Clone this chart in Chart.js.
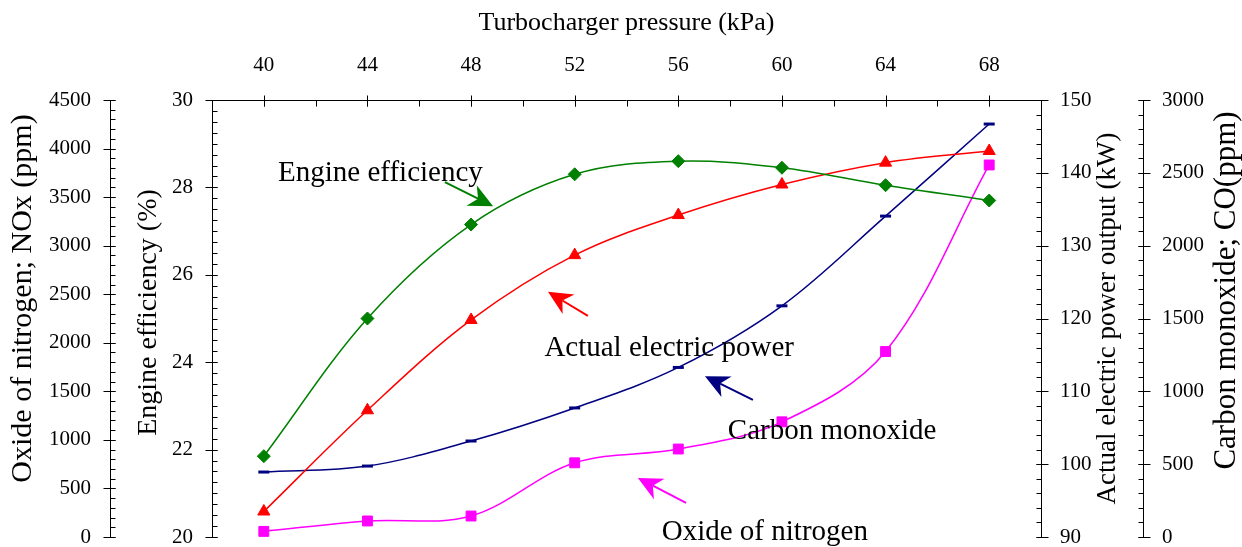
<!DOCTYPE html>
<html>
<head>
<meta charset="utf-8">
<script src="https://cdn.jsdelivr.net/npm/chart.js@4.4.1/dist/chart.umd.min.js"></script>
<style>
  html, body { margin: 0; padding: 0; background: #fff; }
  canvas { display: block; }
</style>
</head>
<body>
<canvas id="myChart" width="1242" height="547"></canvas>
<script>
// data
const pressure = [40, 44, 48, 52, 56, 60, 64, 68];            // kPa
const efficiency = [21.85, 25.0, 27.15, 28.3, 28.6, 28.45, 28.05, 27.7]; // %
const power = [93.5, 107.4, 119.8, 128.7, 134.2, 138.4, 141.4, 143.0];   // kW
const carbonMonoxide = [446, 487, 659, 886, 1164, 1587, 2203, 2835];     // ppm
const nitrogenOxide = [58, 165, 216, 764, 906, 1186, 1910, 3831];        // ppm

// tick labels
const pressureTicks = [40, 44, 48, 52, 56, 60, 64, 68];
const efficiencyTicks = [20, 22, 24, 26, 28, 30];
const noxTicks = [0, 500, 1000, 1500, 2000, 2500, 3000, 3500, 4000, 4500];
const powerTicks = [90, 100, 110, 120, 130, 140, 150];
const coTicks = [0, 500, 1000, 1500, 2000, 2500, 3000];

const serif = "'Liberation Serif', 'Times New Roman', serif";
Chart.defaults.font.family = serif;
Chart.defaults.color = '#000';

function pts(ys) {
  return pressure.map((p, i) => ({ x: p, y: ys[i] }));
}

// side titles: distance of text middle from the axis line, shift from the centre
const sideTitles = {
  nox: { text: 'Oxide of nitrogen; NOx (ppm)', size: 30, dist: 87, shift: -20 },
  eff: { text: 'Engine efficiency (%)', size: 28, dist: 63, shift: -6 },
  power: { text: 'Actual electric power output (kW)', size: 27, dist: 67, shift: 0 },
  co: { text: 'Carbon monoxide; CO(ppm)', size: 31, dist: 84, shift: -28 }
};

// annotations in (kPa, efficiency %) coordinates
const notes = [
  { text: 'Engine efficiency', color: '#008000', at: [40.55, 28.15], tail: [46.99, 28.12], tip: [48.85, 27.57] },
  { text: 'Actual electric power', color: '#ff0000', at: [50.83, 24.14], tail: [52.51, 25.06], tip: [50.97, 25.61] },
  { text: 'Carbon monoxide', color: '#000080', at: [57.91, 22.24], tail: [58.88, 23.14], tip: [57.03, 23.68] },
  { text: 'Oxide of nitrogen', color: '#ff00ff', at: [55.36, 19.93], tail: [56.30, 20.78], tip: [54.44, 21.35] }
];

const axisFrame = {
  id: 'axisFrame',
  beforeDatasetsDraw(chart) {
    const ctx = chart.ctx;
    const s = chart.scales;
    const area = chart.chartArea;
    ctx.save();
    ctx.strokeStyle = '#000';
    ctx.lineWidth = 1;
    ctx.beginPath();
    [['nox', 100, -1], ['eff', 0.25, -1], ['power', 2, 1], ['co', 100, 1]].forEach(([id, minor, side]) => {
      const sc = s[id];
      const x = (side < 0 ? Math.round(sc.right) : Math.round(sc.left)) + 0.5;
      ctx.moveTo(x, sc.top);
      ctx.lineTo(x, sc.bottom);
      const n = Math.round((sc.max - sc.min) / minor);
      for (let i = 0; i <= n; i++) {
        const y = Math.round(sc.getPixelForValue(sc.min + i * minor)) + 0.5;
        ctx.moveTo(x, y);
        ctx.lineTo(x - side * 5, y);
      }
      sc.ticks.forEach(t => {
        const y = Math.round(sc.getPixelForValue(t.value)) + 0.5;
        ctx.moveTo(x + side * 7, y);
        ctx.lineTo(x - side * 5, y);
      });
    });
    const xs = s.x;
    const y0 = Math.round(area.top) + 0.5;
    ctx.moveTo(area.left, y0);
    ctx.lineTo(area.right, y0);
    const nx = Math.round((xs.max - xs.min) / 2);
    for (let i = 0; i <= nx; i++) {
      const x = Math.round(xs.getPixelForValue(xs.min + i * 2)) + 0.5;
      ctx.moveTo(x, y0);
      ctx.lineTo(x, y0 + 6);
    }
    xs.ticks.forEach(t => {
      const x = Math.round(xs.getPixelForValue(t.value)) + 0.5;
      ctx.moveTo(x, y0 - 5);
      ctx.lineTo(x, y0 + 6);
    });
    ctx.stroke();

    // rotated axis titles, all reading bottom to top
    ctx.fillStyle = '#000';
    ctx.textAlign = 'center';
    ctx.textBaseline = 'middle';
    const midY = (area.top + area.bottom) / 2;
    Object.keys(sideTitles).forEach(id => {
      const t = sideTitles[id];
      const sc = s[id];
      const left = sc.position === 'left';
      const axisX = left ? sc.right : sc.left;
      ctx.save();
      ctx.translate(left ? axisX - t.dist : axisX + t.dist, midY + t.shift);
      ctx.rotate(-Math.PI / 2);
      ctx.font = t.size + 'px ' + serif;
      ctx.fillText(t.text, 0, 0);
      ctx.restore();
    });
    ctx.restore();
  },
  afterDraw(chart) {
    const ctx = chart.ctx;
    const xs = chart.scales.x, ys = chart.scales.eff;
    const px = p => [xs.getPixelForValue(p[0]), ys.getPixelForValue(p[1])];
    ctx.save();
    ctx.font = '29px ' + serif;
    ctx.textAlign = 'left';
    ctx.textBaseline = 'alphabetic';
    notes.forEach(nt => {
      const [tx, ty] = px(nt.at);
      ctx.fillStyle = '#000';
      ctx.fillText(nt.text, tx, ty);
      const [ax, ay] = px(nt.tail);
      const [bx, by] = px(nt.tip);
      const len = Math.hypot(bx - ax, by - ay);
      const ux = (bx - ax) / len, uy = (by - ay) / len;
      const L = 24, W = 11.5;
      ctx.strokeStyle = nt.color;
      ctx.fillStyle = nt.color;
      ctx.lineWidth = 2;
      ctx.beginPath();
      ctx.moveTo(ax, ay);
      ctx.lineTo(bx - ux * L * 0.7, by - uy * L * 0.7);
      ctx.stroke();
      ctx.beginPath();
      ctx.moveTo(bx, by);
      ctx.lineTo(bx - ux * L - uy * W, by - uy * L + ux * W);
      ctx.lineTo(bx - ux * L * 0.7, by - uy * L * 0.7);
      ctx.lineTo(bx - ux * L + uy * W, by - uy * L - ux * W);
      ctx.closePath();
      ctx.fill();
    });
    ctx.restore();
  }
};

function yAxis(pos, weight, min, max, ticks, width) {
  return {
    type: 'linear',
    position: pos,
    weight: weight,
    min: min,
    max: max,
    afterBuildTicks: sc => { sc.ticks = ticks.map(v => ({ value: v })); },
    afterFit: sc => { sc.width = width; sc.paddingTop = 0; sc.paddingBottom = 0; },
    grid: { display: false, drawTicks: false },
    border: { display: false },
    ticks: { padding: 19, color: '#000', font: { size: 21 }, callback: v => String(v) },
    title: { display: false }
  };
}

const ctx = document.getElementById('myChart');
new Chart(ctx, {
  type: 'line',
  data: {
    datasets: [
      {
        label: 'Engine efficiency',
        data: pts(efficiency),
        yAxisID: 'eff',
        borderColor: '#008000',
        backgroundColor: '#008000',
        borderWidth: 1.5,
        pointStyle: 'rectRot',
        pointRadius: 6.5,
        pointBorderWidth: 1,
        tension: 0.35
      },
      {
        label: 'Actual electric power',
        data: pts(power),
        yAxisID: 'power',
        borderColor: '#ff0000',
        backgroundColor: '#ff0000',
        borderWidth: 1.5,
        pointStyle: 'triangle',
        pointRadius: 7,
        pointBorderWidth: 1,
        tension: 0.35
      },
      {
        label: 'Carbon monoxide',
        data: pts(carbonMonoxide),
        yAxisID: 'co',
        borderColor: '#000080',
        backgroundColor: '#000080',
        borderWidth: 1.5,
        pointStyle: 'line',
        pointRadius: 5.5,
        pointBorderWidth: 3,
        tension: 0.35
      },
      {
        label: 'Oxide of nitrogen',
        data: pts(nitrogenOxide),
        yAxisID: 'nox',
        borderColor: '#ff00ff',
        backgroundColor: '#ff00ff',
        borderWidth: 1.5,
        pointStyle: 'rect',
        pointRadius: 7,
        pointBorderWidth: 1,
        tension: 0.35
      }
    ]
  },
  options: {
    responsive: false,
    animation: false,
    devicePixelRatio: 1,
    layout: { padding: { left: 0, right: 0, top: 0, bottom: 10 } },
    scales: {
      x: {
        type: 'linear',
        position: 'top',
        min: 38,
        max: 70,
        afterBuildTicks: sc => { sc.ticks = pressureTicks.map(v => ({ value: v })); },
        afterFit: sc => { sc.height = 100; sc.paddingLeft = 0; sc.paddingRight = 0; },
        grid: { display: false, drawTicks: false },
        border: { display: false },
        ticks: { padding: 22, color: '#000', font: { size: 21 }, callback: v => String(v) },
        title: {
          display: true,
          text: 'Turbocharger pressure (kPa)',
          color: '#000',
          font: { size: 26 },
          padding: { top: 8, bottom: 0 }
        }
      },
      nox: yAxis('left', 1, 0, 4500, noxTicks, 110),
      eff: yAxis('left', 0, 20, 30, efficiencyTicks, 102),
      power: yAxis('right', 0, 90, 150, powerTicks, 102),
      co: yAxis('right', 1, 0, 3000, coTicks, 99)
    },
    plugins: {
      legend: { display: false },
      tooltip: { enabled: false }
    }
  },
  plugins: [axisFrame]
});
</script>
</body>
</html>
